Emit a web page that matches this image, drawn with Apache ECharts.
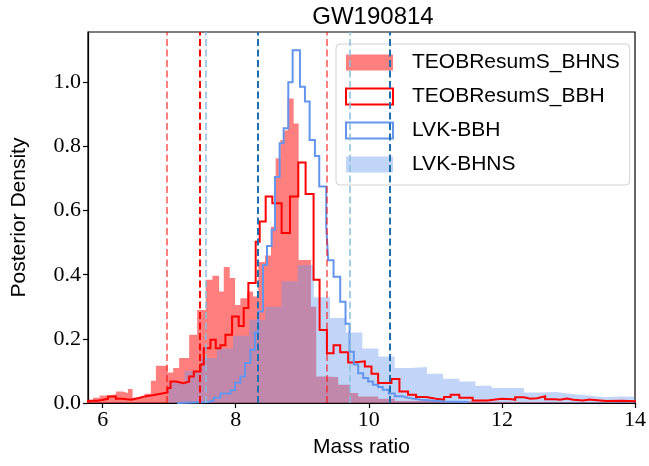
<!DOCTYPE html>
<html>
<head>
<meta charset="utf-8">
<script src="https://cdn.jsdelivr.net/npm/echarts@6/dist/echarts.min.js"></script>
<style>html,body{margin:0;padding:0;background:#fff}#c{width:649px;height:466px}</style>
</head>
<body>
<div id="c"></div>
<script>
// ---------- data ----------
const xTicks = [6, 8, 10, 12, 14];
const yTicks = [0, 0.2, 0.4, 0.6, 0.8, 1.0];
const seriesNames = ['TEOBResumS_BHNS', 'TEOBResumS_BBH', 'LVK-BBH', 'LVK-BHNS'];

// TEOBResumS_BHNS (filled histogram)
const teobBhnsEdges = [5.78, 5.855, 5.955, 6.10, 6.20, 6.30, 6.38, 6.45, 6.63, 6.725, 6.80, 6.975, 7.06, 7.15, 7.30, 7.42, 7.55, 7.65, 7.75, 7.82, 7.91, 7.99, 8.07, 8.17, 8.26, 8.34, 8.44, 8.53, 8.60, 8.67, 8.72, 8.78, 8.87, 8.945, 9.13, 9.21, 9.39, 9.54, 9.72, 9.84, 10.14, 10.39, 10.9, 12.2, 14.2];
const teobBhnsHeights = [0.008, 0.016, 0.023, 0.027, 0.036, 0.031, 0.044, 0.016, 0.029, 0.069, 0.116, 0.095, 0.109, 0.14, 0.213, 0.29, 0.384, 0.397, 0.348, 0.424, 0.39, 0.306, 0.327, 0.348, 0.332, 0.44, 0.46, 0.55, 0.763, 0.82, 0.85, 0.95, 0.872, 0.446, 0.30, 0.083, 0.08, 0.057, 0.031, 0.02, 0.013, 0.006, 0.003, 0.002];

// TEOBResumS_BBH (step outline)
const teobBbhEdges = [5.78, 5.93, 6.08, 6.20, 6.30, 6.43, 6.53, 6.63, 6.75, 6.875, 6.975, 7.02, 7.10, 7.22, 7.30, 7.37, 7.47, 7.52, 7.62, 7.70, 7.77, 7.845, 7.945, 8.045, 8.12, 8.19, 8.30, 8.36, 8.45, 8.55, 8.69, 8.815, 8.94, 9.05, 9.17, 9.26, 9.37, 9.47, 9.57, 9.69, 9.77, 9.94, 10.04, 10.14, 10.34, 10.46, 10.59, 10.71, 10.86, 11.01, 11.13, 11.23, 11.36, 11.56, 11.78, 12.0, 12.15, 12.20, 12.33, 12.43, 12.53, 12.65, 12.80, 12.875, 12.975, 13.075, 13.22, 13.32, 13.47, 13.57, 13.80, 14.1];
const teobBbhHeights = [0.007, 0.013, 0.02, 0.013, 0.01, 0.015, 0.02, 0.024, 0.029, 0.033, 0.047, 0.067, 0.062, 0.067, 0.083, 0.098, 0.12, 0.171, 0.197, 0.171, 0.18, 0.213, 0.27, 0.24, 0.296, 0.374, 0.503, 0.566, 0.644, 0.623, 0.53, 0.644, 0.75, 0.652, 0.384, 0.228, 0.155, 0.18, 0.158, 0.126, 0.13, 0.114, 0.091, 0.062, 0.075, 0.036, 0.026, 0.019, 0.013, 0.01, 0.019, 0.026, 0.016, 0.008, 0.013, 0.012, 0.01, 0.018, 0.013, 0.015, 0.021, 0.012, 0.01, 0.014, 0.01, 0.008, 0.011, 0.008, 0.006, 0.007, 0.005];

// LVK-BBH (step outline)
const lvkBbhEdges = [7.12, 7.57, 7.67, 7.77, 7.92, 7.99, 8.07, 8.14, 8.22, 8.29, 8.34, 8.41, 8.47, 8.54, 8.59, 8.66, 8.72, 8.79, 8.855, 8.965, 9.04, 9.11, 9.19, 9.255, 9.36, 9.39, 9.47, 9.57, 9.65, 9.71, 9.775, 9.84, 9.915, 9.99, 10.06, 10.14, 10.21, 10.30, 10.39, 10.51, 10.59, 10.78, 11.14, 11.48];
const lvkBbhHeights = [0.003, 0.008, 0.016, 0.03, 0.04, 0.063, 0.083, 0.125, 0.166, 0.22, 0.285, 0.43, 0.49, 0.54, 0.705, 0.81, 0.857, 1.0, 1.10, 0.986, 0.94, 0.82, 0.77, 0.675, 0.55, 0.445, 0.394, 0.316, 0.247, 0.16, 0.12, 0.093, 0.078, 0.067, 0.057, 0.05, 0.041, 0.03, 0.021, 0.016, 0.01, 0.005, 0.003];

// LVK-BHNS (filled histogram)
const lvkBhnsEdges = [6.988, 7.231, 7.474, 7.717, 7.960, 8.203, 8.446, 8.688, 8.931, 9.174, 9.417, 9.660, 9.902, 10.145, 10.388, 10.631, 10.874, 11.116, 11.359, 11.602, 11.845, 12.088, 12.331, 12.573, 12.816, 13.059, 13.302, 13.545, 13.788, 14.030, 14.273];
const lvkBhnsHeights = [0.065, 0.10, 0.14, 0.17, 0.21, 0.26, 0.30, 0.38, 0.43, 0.33, 0.265, 0.22, 0.17, 0.145, 0.109, 0.112, 0.091, 0.076, 0.067, 0.054, 0.047, 0.047, 0.033, 0.034, 0.028, 0.023, 0.018, 0.02, 0.019, 0.018];

// 90% bounds (dashed vertical lines)
const teobBhnsBounds = [6.975, 9.37];
const teobBbhBounds = [7.46];
const lvkBhnsBounds = [7.55, 9.71];
const lvkBbhBounds = [8.33, 10.32];

// ---------- build ----------
function stepPoints(edges, heights) {
  const pts = [[edges[0], 0]];
  for (let i = 0; i < heights.length; i++) {
    pts.push([edges[i], heights[i]]);
    pts.push([edges[i + 1], heights[i]]);
  }
  pts.push([edges[edges.length - 1], 0]);
  return pts;
}
const C_RED = '#ff0000';
const C_REDFILL = 'rgba(255,0,0,0.5)';
const C_BLUE = '#6495ed';
const C_BLUEFILL = 'rgba(100,149,237,0.4)';

function vlines(vals, color) {
  return vals.map(v => ({ xAxis: v, lineStyle: { color: color, type: [7, 3.5], width: 2 } }));
}

const chart = echarts.init(document.getElementById('c'), null, { renderer: 'canvas' });
const option = {
  animation: false,
  backgroundColor: '#fff',
  title: {
    text: 'GW190814', left: 368, top: 0, textAlign: 'center',
    textStyle: { fontFamily: 'Liberation Sans', fontSize: 24, fontWeight: 'normal', color: '#000' }
  },
  grid: { left: 88, right: 11, top: 32, bottom: 63, show: true, borderColor: '#000', borderWidth: 1.2, backgroundColor: 'transparent' },
  xAxis: {
    type: 'value', min: 5.78, max: 14,
    name: 'Mass ratio', nameLocation: 'middle', nameGap: 34,
    nameTextStyle: { fontFamily: 'Liberation Sans', fontSize: 21, color: '#000' },
    axisLine: { show: true, onZero: false, lineStyle: { color: '#000', width: 1.2 } },
    axisTick: { show: true, inside: false, length: 5, customValues: xTicks, lineStyle: { color: '#000', width: 1.2 } },
    axisLabel: { customValues: xTicks, margin: 6, fontFamily: 'Liberation Serif', fontSize: 22, color: '#000', formatter: v => String(v) },
    splitLine: { show: false }
  },
  yAxis: {
    type: 'value', min: 0, max: 1.157,
    name: 'Posterior Density', nameLocation: 'middle', nameGap: 58,
    nameTextStyle: { fontFamily: 'Liberation Sans', fontSize: 21, color: '#000' },
    axisLine: { show: true, lineStyle: { color: '#000', width: 1.2 } },
    axisTick: { show: true, inside: false, length: 5, customValues: yTicks, lineStyle: { color: '#000', width: 1.2 } },
    axisLabel: { customValues: yTicks, margin: 7, fontFamily: 'Liberation Serif', fontSize: 22, color: '#000', formatter: v => v.toFixed(1) },
    splitLine: { show: false }
  },
  legend: {
    orient: 'vertical', left: 336, top: 44,
    padding: [8, 10, 10, 9], itemGap: 13, itemWidth: 47, itemHeight: 16,
    backgroundColor: 'rgba(255,255,255,0.8)', borderColor: '#d0d0d0', borderWidth: 1, borderRadius: 4,
    textStyle: { fontFamily: 'Liberation Sans', fontSize: 21, color: '#000', lineHeight: 20, padding: [0, 0, 0, 14] },
    data: [
      { name: seriesNames[0], icon: 'rect', itemStyle: { color: C_REDFILL, borderWidth: 0 } },
      { name: seriesNames[1], icon: 'rect', itemStyle: { color: '#fff', borderColor: C_RED, borderWidth: 2 } },
      { name: seriesNames[2], icon: 'rect', itemStyle: { color: '#fff', borderColor: C_BLUE, borderWidth: 2 } },
      { name: seriesNames[3], icon: 'rect', itemStyle: { color: C_BLUEFILL, borderWidth: 0 } }
    ]
  },
  series: [
    {
      name: seriesNames[0], type: 'line', data: stepPoints(teobBhnsEdges, teobBhnsHeights),
      showSymbol: false, symbol: 'none', lineStyle: { width: 0, color: C_REDFILL }, itemStyle: { color: C_REDFILL },
      areaStyle: { color: C_REDFILL, opacity: 1 }, z: 1, clip: true,
      markLine: { silent: true, symbol: 'none', label: { show: false }, data: vlines(teobBhnsBounds, 'rgba(255,0,0,0.5)'), z: 5 }
    },
    {
      name: seriesNames[3], type: 'line', data: stepPoints(lvkBhnsEdges, lvkBhnsHeights),
      showSymbol: false, symbol: 'none', lineStyle: { width: 0, color: C_BLUEFILL }, itemStyle: { color: C_BLUEFILL },
      areaStyle: { color: C_BLUEFILL, opacity: 1 }, z: 2, clip: true,
      markLine: { silent: true, symbol: 'none', label: { show: false }, data: vlines(lvkBhnsBounds, 'rgba(135,190,220,0.75)'), z: 5 }
    },
    {
      name: seriesNames[1], type: 'line', data: stepPoints(teobBbhEdges, teobBbhHeights),
      showSymbol: false, symbol: 'none', lineStyle: { width: 2, color: C_RED, join: 'miter' }, itemStyle: { color: C_RED }, z: 3, clip: true,
      markLine: { silent: true, symbol: 'none', label: { show: false }, data: vlines(teobBbhBounds, C_RED), z: 5 }
    },
    {
      name: seriesNames[2], type: 'line', data: stepPoints(lvkBbhEdges, lvkBbhHeights),
      showSymbol: false, symbol: 'none', lineStyle: { width: 2, color: C_BLUE, join: 'miter' }, itemStyle: { color: C_BLUE }, z: 3, clip: true,
      markLine: { silent: true, symbol: 'none', label: { show: false }, data: vlines(lvkBbhBounds, '#1f6fb0'), z: 5 }
    }
  ]
};
chart.setOption(option);
</script>
</body>
</html>
